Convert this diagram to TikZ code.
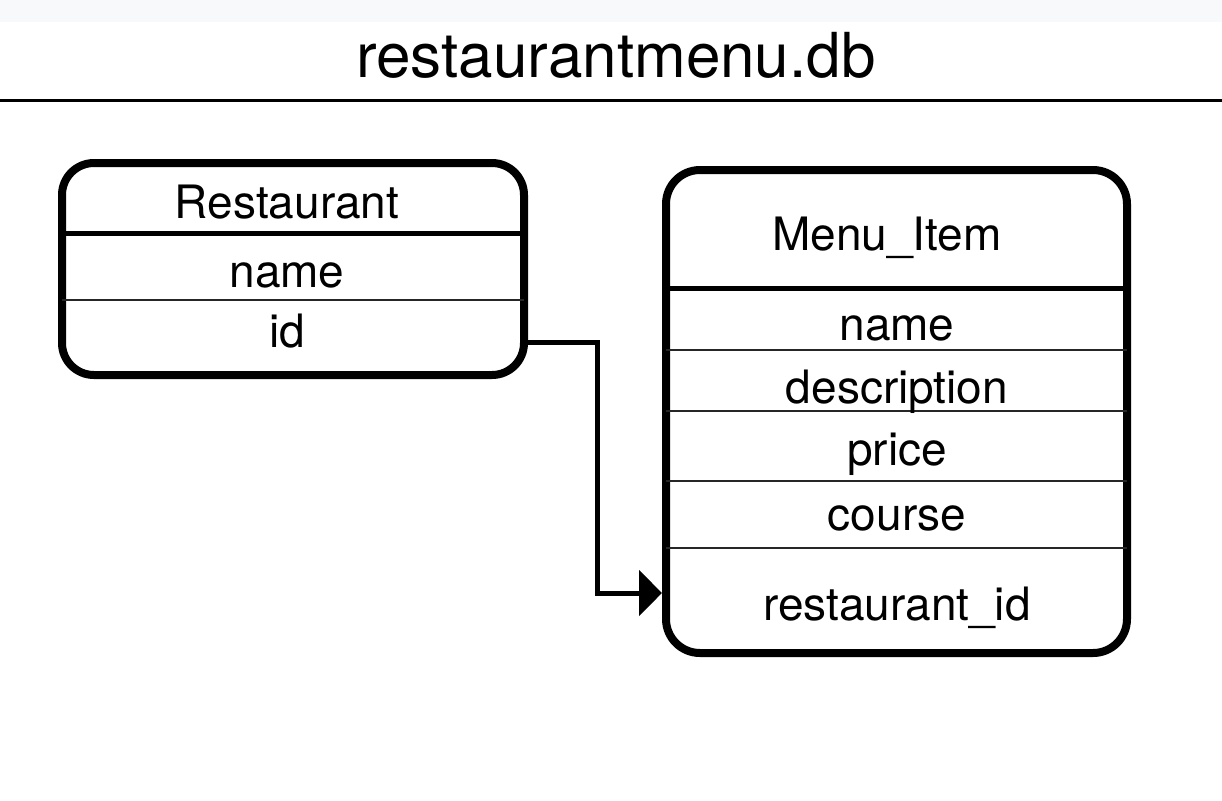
\documentclass[tikz,border=0pt]{standalone}
\usepackage{fontspec}
\setmainfont{TeX Gyre Heros}
\usetikzlibrary{arrows.meta}
\definecolor{stripgray}{HTML}{F8F9FB}
\tikzset{
  tablebox/.style={draw=black, line width=4pt, rounded corners=16pt, inner sep=0pt},
  headsep/.style={draw=black, line width=2.5pt},
  rowsep/.style={draw=black!85, line width=1pt},
  fieldtext/.style={anchor=base, inner sep=0pt, font=\fontsize{23}{28}\selectfont, text=black},
  titletext/.style={anchor=base, inner sep=0pt, font=\fontsize{31}{37}\selectfont, text=black},
  conn/.style={draw=black, line width=2.5pt, line join=miter, line cap=rect, -{Triangle[length=11.5pt,width=22.5pt]}}
}
\begin{document}
\begin{tikzpicture}[x=0.5pt,y=-0.5pt]
\useasboundingbox (0,0) rectangle (1222,800);
\fill[white] (0,0) rectangle (1222,800);
\fill[stripgray] (0,0) rectangle (1222,22);
% title
\node[titletext] (title) at (616,77) {restaurantmenu.db};
\draw[black, line width=1.5pt] (0,100) -- (1222,100);
% Restaurant table
\node[tablebox, minimum width=231pt, minimum height=106pt] (rest) at (293,269) {};
\draw[headsep] (62,233) -- (524,233);
\draw[rowsep] (62,300) -- (524,300);
\node[fieldtext] (rhead) at (287,218) {Restaurant};
\node[fieldtext] (rname) at (287,287) {name};
\node[fieldtext] (rid) at (287,347) {id};
% Menu_Item table
\node[tablebox, rounded corners=17pt, minimum width=230.5pt, minimum height=241.5pt] (menu) at (896.5,411.5) {};
\draw[headsep] (666,288) -- (1127,288);
\draw[rowsep] (666,350) -- (1127,350);
\draw[rowsep] (666,411) -- (1127,411);
\draw[rowsep] (666,481) -- (1127,481);
\draw[rowsep] (666,548) -- (1127,548);
\node[fieldtext] (mhead) at (887,250) {Menu\_Item};
\node[fieldtext] (mname) at (897,340) {name};
\node[fieldtext] (mdesc) at (897,403) {description};
\node[fieldtext] (mprice) at (897,465) {price};
\node[fieldtext] (mcourse) at (897,530) {course};
\node[fieldtext] (mrid) at (897,620) {restaurant\_id};
% connector
\coordinate (c1) at (597,342);
\coordinate (c2) at (597,593);
\draw[conn] (rest.east |- c1) -- (c1) -- (c2) -- (menu.west |- c2);
\end{tikzpicture}
\end{document}
